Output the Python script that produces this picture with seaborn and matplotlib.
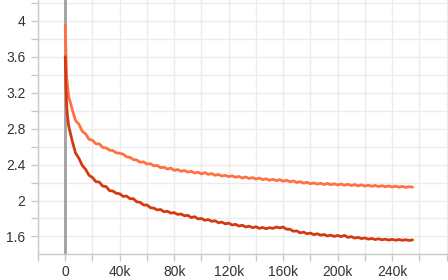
import numpy as np
import pandas as pd
import matplotlib
matplotlib.use("Agg")
import matplotlib.pyplot as plt
import seaborn as sns
from matplotlib.ticker import MultipleLocator, FixedLocator, FuncFormatter

steps_k = np.concatenate([[0, 0.5, 1, 1.5], np.arange(2.5, 255.1, 2.5)])

loss_light = [
    3.95, 3.64, 3.38, 3.30,
    3.16, 3.02, 2.89, 2.85, 2.77, 2.74, 2.68, 2.67, 2.63, 2.63,
    2.59, 2.585, 2.56, 2.555, 2.53, 2.525, 2.515, 2.485, 2.48, 2.455,
    2.45, 2.425, 2.43, 2.405, 2.41, 2.385, 2.39, 2.365, 2.37, 2.35,
    2.36, 2.335, 2.345, 2.325, 2.335, 2.315, 2.325, 2.305, 2.315, 2.295,
    2.31, 2.29, 2.30, 2.28, 2.29, 2.272, 2.28, 2.265, 2.275, 2.258,
    2.268, 2.25, 2.262, 2.245, 2.255, 2.238, 2.25, 2.232, 2.242, 2.225,
    2.236, 2.22, 2.232, 2.214, 2.225, 2.208, 2.218, 2.20, 2.21, 2.193,
    2.203, 2.186, 2.196, 2.182, 2.192, 2.178, 2.19, 2.175, 2.186, 2.172,
    2.184, 2.17, 2.18, 2.166, 2.177, 2.163, 2.174, 2.16, 2.171, 2.158,
    2.168, 2.155, 2.165, 2.153, 2.162, 2.15, 2.16, 2.148, 2.157, 2.146,
    2.154, 2.148,
]

loss_dark = [
    3.60, 3.28, 3.08, 2.96,
    2.83, 2.67, 2.53, 2.47, 2.39, 2.345, 2.28, 2.255, 2.21, 2.205,
    2.16, 2.155, 2.11, 2.105, 2.08, 2.075, 2.045, 2.05, 2.02, 2.02,
    1.985, 1.98, 1.95, 1.95, 1.92, 1.915, 1.895, 1.90, 1.875, 1.88,
    1.86, 1.865, 1.845, 1.85, 1.83, 1.835, 1.81, 1.82, 1.795, 1.80,
    1.78, 1.788, 1.768, 1.775, 1.752, 1.76, 1.74, 1.748, 1.728, 1.735,
    1.716, 1.725, 1.705, 1.715, 1.697, 1.708, 1.69, 1.70, 1.686, 1.698,
    1.69, 1.705, 1.695, 1.705, 1.68, 1.68, 1.658, 1.662, 1.64, 1.648,
    1.63, 1.638, 1.62, 1.63, 1.614, 1.622, 1.605, 1.615, 1.60, 1.612,
    1.598, 1.612, 1.59, 1.598, 1.582, 1.59, 1.576, 1.584, 1.57, 1.578,
    1.566, 1.574, 1.563, 1.57, 1.56, 1.568, 1.558, 1.566, 1.557, 1.564,
    1.556, 1.562,
]

x_labels_k = [0, 40, 80, 120, 160, 200, 240]

runs = ["light", "dark"]
colors = {"light": "#ff7043", "dark": "#d33a0f"}

df = pd.concat([
    pd.DataFrame({"step": steps_k * 1000, "value": loss_light, "run": "light"}),
    pd.DataFrame({"step": steps_k * 1000, "value": loss_dark, "run": "dark"}),
])

sns.set_theme(style="whitegrid")
plt.rcParams["font.family"] = ["Liberation Sans", "DejaVu Sans"]

fig = plt.figure(figsize=(4.48, 2.8), dpi=100)
ax = fig.add_axes([38 / 448, 1 - 254 / 280, 1 - 38 / 448, 254 / 280])

ax.axvline(0, color="#a0a0a0", lw=2, zorder=1.5)
sns.lineplot(data=df, x="step", y="value", hue="run", hue_order=runs,
             palette=colors, lw=2.0, legend=False, ax=ax, zorder=3)

ax.set_xlim(-20000, 281000)
ax.set_ylim(1.405, 4.23)

ax.xaxis.set_major_locator(FixedLocator([k * 1000 for k in x_labels_k]))
ax.xaxis.set_minor_locator(MultipleLocator(20000))
ax.yaxis.set_major_locator(MultipleLocator(0.4))
ax.yaxis.set_minor_locator(MultipleLocator(0.2))
ax.xaxis.set_major_formatter(FuncFormatter(lambda v, p: "0" if v == 0 else f"{int(round(v / 1000))}k"))
ax.yaxis.set_major_formatter(FuncFormatter(lambda v, p: f"{round(v, 1):g}"))

ax.grid(True, which="both", color="#ececec", lw=1)
ax.set_axisbelow(True)
for s in ["top", "right"]:
    ax.spines[s].set_visible(False)
for s in ["left", "bottom"]:
    ax.spines[s].set_color("#c8c8c8")
    ax.spines[s].set_linewidth(1)

ax.tick_params(which="both", direction="out", color="#c8c8c8", width=1, length=5)
ax.tick_params(axis="x", which="both", bottom=True, pad=3, labelsize=10, labelcolor="#333333")
ax.tick_params(axis="y", which="both", left=True, pad=4, labelsize=10, labelcolor="#333333")
ax.set_xlabel("")
ax.set_ylabel("")

fig.savefig("out.png", dpi=100)
